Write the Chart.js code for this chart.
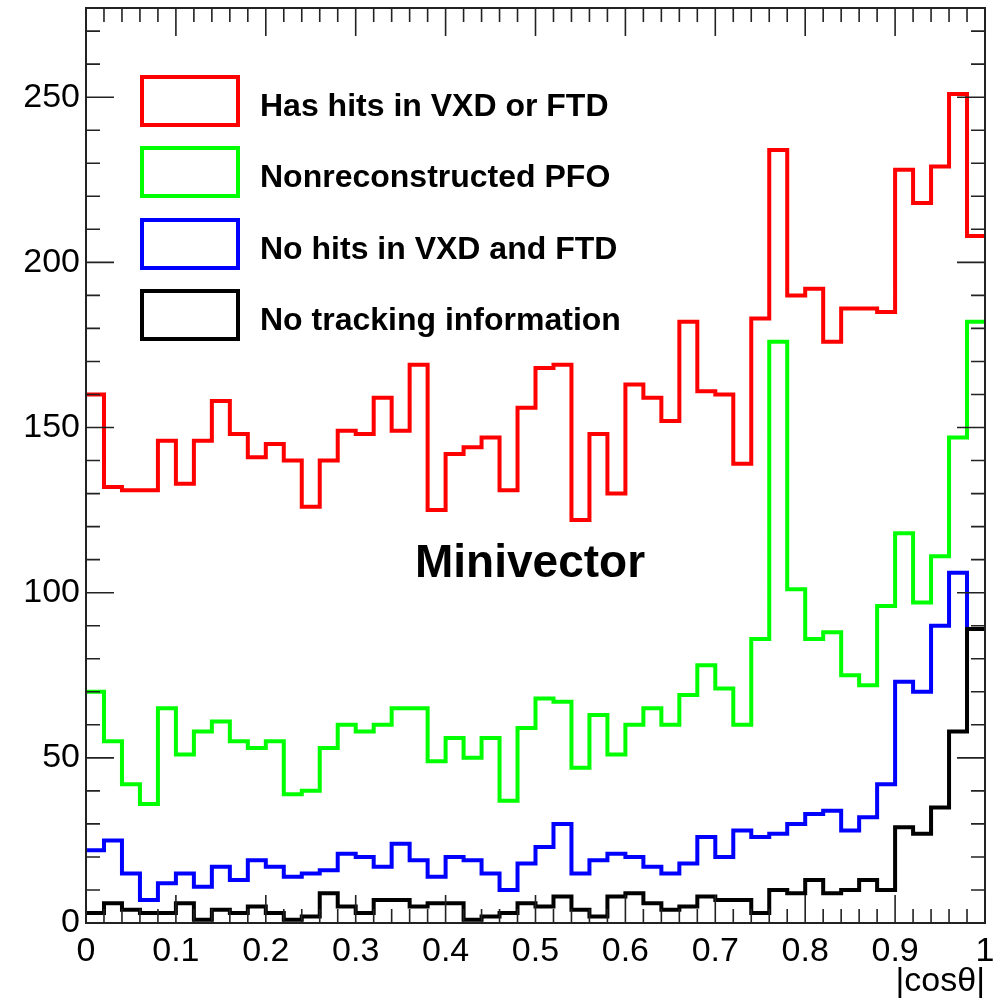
<!DOCTYPE html>
<html>
<head>
<meta charset="utf-8">
<title>Minivector |cosθ|</title>
<script src="https://cdn.jsdelivr.net/npm/chart.js@4.4.1/dist/chart.umd.min.js"></script>
<style>
    body { margin: 0; background: #fff; }
    #wrap { position: relative; width: 1004px; height: 1002px; }
    #legend { position: absolute; left: 140px; top: 75px; }
    .row { position: absolute; left: 0; width: 520px; height: 52px; }
    .box { position: absolute; left: 0; top: 0; width: 100px; height: 52px; box-sizing: border-box; border: 4px solid #000; }
    .txt { position: absolute; left: 120px; top: 12px; line-height: 32px; white-space: nowrap;
           font: bold 32px "Liberation Sans", Arial, sans-serif; color: #000; }
    #tag { position: absolute; left: 415px; top: 534px; line-height: 46px;
           font: bold 46px "Liberation Sans", Arial, sans-serif; color: #000; }
</style>
</head>
<body>
<div id="wrap">
    <canvas id="chartCanvas" width="1004" height="1002"></canvas>
    <div id="legend"></div>
    <div id="tag">Minivector</div>
</div>
<script>
// Histogram: 50 bins of |cos theta| from 0 to 1
const xMin = 0;
const xMax = 1;
const nBins = 50;

const xTickLabels = ['0', '0.1', '0.2', '0.3', '0.4', '0.5', '0.6', '0.7', '0.8', '0.9', '1'];
const yTickValues = [0, 50, 100, 150, 200, 250];

const seriesNames = [
    'Has hits in VXD or FTD',
    'Nonreconstructed PFO',
    'No hits in VXD and FTD',
    'No tracking information'
];

// counts per bin
const hasHits = [160, 132, 131, 131, 146, 133, 146, 158, 148, 141,
                 145, 140, 126, 140, 149, 148, 159, 149, 169, 125,
                 142, 144, 147, 131, 156, 168, 169, 122, 148, 130,
                 163, 159, 152, 182, 161, 160, 139, 183, 234, 190,
                 192, 176, 186, 186, 185, 228, 218, 229, 251, 208];

const nonReco = [70, 55, 42, 36, 65, 51, 58, 61, 55, 53,
                 55, 39, 40, 53, 60, 58, 60, 65, 65, 49,
                 56, 50, 56, 37, 59, 68, 67, 47, 63, 51,
                 60, 65, 60, 69, 78, 71, 60, 86, 176, 101,
                 86, 88, 75, 72, 96, 118, 97, 111, 147, 182];

const noHits = [22, 25, 15, 7, 12, 15, 11, 17, 13, 19,
                17, 14, 15, 16, 21, 20, 17, 24, 19, 14,
                20, 19, 15, 10, 18, 23, 30, 15, 19, 21,
                20, 17, 15, 18, 26, 20, 28, 26, 27, 30,
                33, 34, 28, 32, 42, 73, 70, 90, 106, 89];

const noTrack = [3, 6, 4, 3, 3, 6, 1, 4, 3, 5,
                 3, 1, 2, 9, 5, 3, 7, 7, 5, 6,
                 6, 1, 2, 3, 6, 5, 8, 4, 2, 8,
                 9, 6, 4, 5, 8, 7, 7, 3, 10, 9,
                 13, 9, 10, 13, 10, 29, 27, 35, 58, 89];

const lineColors = ['#ff0000', '#00ff00', '#0000ff', '#000000'];

const fontFamily = '"Liberation Sans", Arial, sans-serif';

// turn bin contents into step points (left edges + closing point at xMax)
function histPoints(counts) {
    const width = (xMax - xMin) / nBins;
    const pts = counts.map((c, i) => ({ x: xMin + i * width, y: c }));
    pts.push({ x: xMax, y: counts[counts.length - 1] });
    return pts;
}

function makeSet(label, counts, color, order) {
    return {
        label: label,
        data: histPoints(counts),
        borderColor: color,
        backgroundColor: color,
        borderWidth: 4,
        pointRadius: 0,
        stepped: true,
        fill: false,
        order: order
    };
}

// ROOT-like frame with inward ticks on all four sides
const frameTicks = {
    id: 'frameTicks',
    afterDraw(chart) {
        const ctx = chart.ctx;
        const xs = chart.scales.x;
        const ys = chart.scales.y;
        const a = chart.chartArea;
        ctx.save();
        ctx.strokeStyle = '#222';
        ctx.lineWidth = 2;
        ctx.strokeRect(a.left, a.top, a.right - a.left, a.bottom - a.top);

        ctx.lineWidth = 1.6;
        ctx.beginPath();
        for (let i = 0; i <= nBins; i++) {
            const v = xMin + i * (xMax - xMin) / nBins;
            const px = xs.getPixelForValue(v);
            const len = (i % 5 === 0) ? 28 : 14;
            ctx.moveTo(px, a.bottom); ctx.lineTo(px, a.bottom - len);
            ctx.moveTo(px, a.top); ctx.lineTo(px, a.top + len);
        }
        for (let v = 0; v <= ys.max; v += 10) {
            const py = ys.getPixelForValue(v);
            const len = (v % 50 === 0) ? 28 : 14;
            ctx.moveTo(a.left, py); ctx.lineTo(a.left + len, py);
            ctx.moveTo(a.right, py); ctx.lineTo(a.right - len, py);
        }
        ctx.stroke();
        ctx.restore();
    }
};

const chartContext = document.getElementById('chartCanvas').getContext('2d');
const histChart = new Chart(chartContext, {
    type: 'line',
    data: {
        datasets: [
            makeSet(seriesNames[0], hasHits, lineColors[0], 3),
            makeSet(seriesNames[1], nonReco, lineColors[1], 2),
            makeSet(seriesNames[2], noHits, lineColors[2], 1),
            makeSet(seriesNames[3], noTrack, lineColors[3], 0)
        ]
    },
    options: {
        responsive: false,
        animation: false,
        devicePixelRatio: 1,
        layout: { padding: { top: 8, right: 19, left: 0, bottom: 0 } },
        plugins: {
            legend: { display: false },
            tooltip: { enabled: false }
        },
        scales: {
            x: {
                type: 'linear',
                min: xMin,
                max: xMax,
                grid: { display: false, drawTicks: false },
                border: { display: false },
                ticks: {
                    stepSize: 0.1,
                    maxRotation: 0,
                    autoSkip: false,
                    padding: 8,
                    color: '#000',
                    font: { family: fontFamily, size: 34 },
                    callback: (value, index) => xTickLabels[index]
                },
                title: {
                    display: true,
                    text: '|cosθ|',
                    align: 'end',
                    color: '#000',
                    padding: 0,
                    font: { family: fontFamily, size: 34 }
                },
                afterFit: (scale) => {
                    scale.height = 79;
                    scale.paddingLeft = 0;
                    scale.paddingRight = 0;
                }
            },
            y: {
                min: 0,
                max: 277,
                grid: { display: false, drawTicks: false },
                border: { display: false },
                ticks: {
                    stepSize: 50,
                    includeBounds: false,
                    padding: 6,
                    color: '#000',
                    font: { family: fontFamily, size: 34 },
                    callback: (value) => yTickValues.includes(value) ? String(value) : ''
                },
                afterFit: (scale) => {
                    scale.width = 86;
                    scale.paddingTop = 0;
                    scale.paddingBottom = 0;
                }
            }
        }
    },
    plugins: [frameTicks]
});

// legend drawn as html boxes next to the plot
const legendDiv = document.getElementById('legend');
histChart.data.datasets.forEach((ds, i) => {
    const row = document.createElement('div');
    row.className = 'row';
    row.style.top = (i * 71.3) + 'px';
    const box = document.createElement('div');
    box.className = 'box';
    box.style.borderColor = ds.borderColor;
    const txt = document.createElement('span');
    txt.className = 'txt';
    txt.textContent = ds.label;
    row.appendChild(box);
    row.appendChild(txt);
    legendDiv.appendChild(row);
});
</script>
</body>
</html>
